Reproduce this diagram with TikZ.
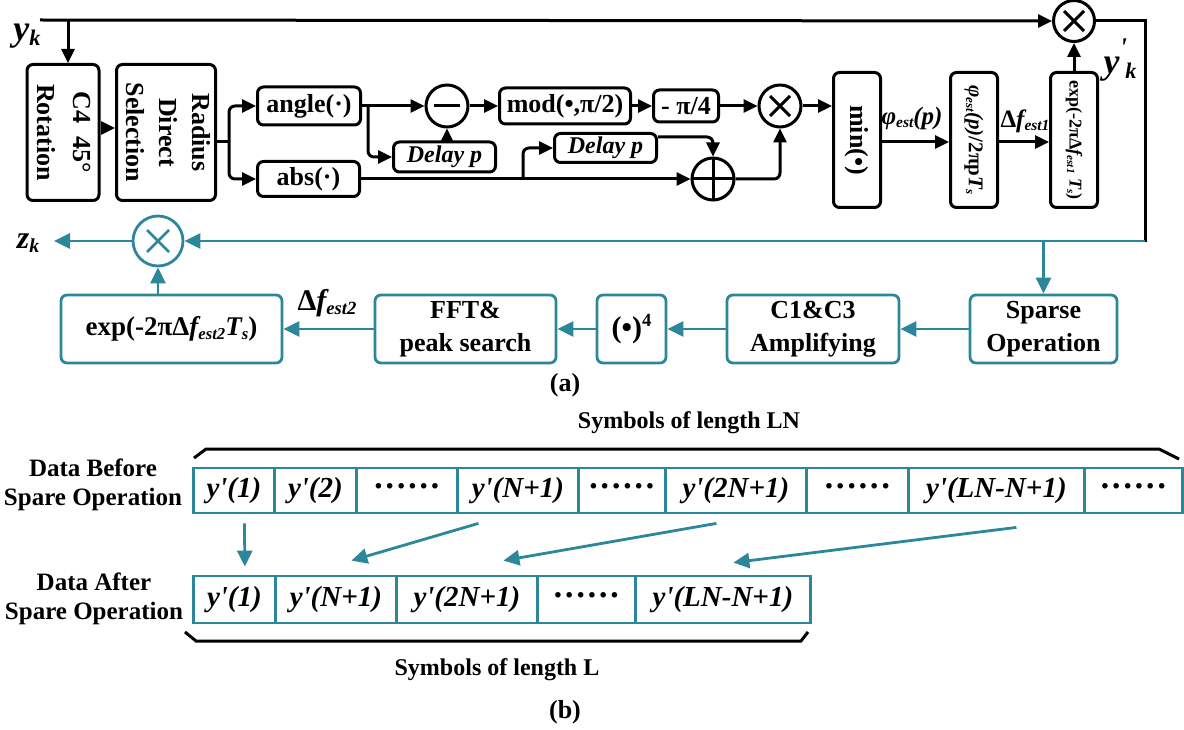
\documentclass[tikz,border=0pt]{standalone}
\usepackage{fontspec}
\setmainfont{Liberation Serif}
\usepackage{graphicx}
\usetikzlibrary{arrows.meta,calc}
\definecolor{tl}{RGB}{45,135,155}
\newcommand\dn[1]{\raisebox{-0.3ex}{\scalebox{0.62}{#1}}}
\newcommand\upx[1]{\raisebox{0.85ex}{\scalebox{0.62}{#1}}}
\newcommand\fs[2]{\fontsize{#1}{#2}\selectfont}
\newcommand\pr{\textquotesingle}
\newcommand\dts{{\upshape\fs{34}{29}······}}
\begin{document}
\begin{tikzpicture}[x=1pt,y=-1pt,
  bx/.style={draw, line width=3pt, rounded corners=6pt, inner sep=0pt, align=center, font=\bfseries\fs{26}{33}},
  tbx/.style={bx, draw=tl, line width=2.8pt},
  ar/.style={line width=3pt, -{Triangle[length=14pt,width=13pt]}},
  tar/.style={line width=2.8pt, color=tl, -{Triangle[length=16pt,width=15pt]}},
  circ/.style={circle, draw, line width=3pt, minimum size=42pt, inner sep=0pt},
  mulc/.style={circ, path picture={\draw[line width=3pt]
     ([shift={(-10pt,-10pt)}]path picture bounding box.center) -- ([shift={(10pt,10pt)}]path picture bounding box.center)
     ([shift={(-10pt,10pt)}]path picture bounding box.center) -- ([shift={(10pt,-10pt)}]path picture bounding box.center);}},
  tmulc/.style={circ, draw=tl, line width=2.8pt, minimum size=50pt, path picture={\draw[line width=2.8pt, tl]
     ([shift={(-11pt,-11pt)}]path picture bounding box.center) -- ([shift={(11pt,11pt)}]path picture bounding box.center)
     ([shift={(-11pt,11pt)}]path picture bounding box.center) -- ([shift={(11pt,-11pt)}]path picture bounding box.center);}},
  plusc/.style={circ, path picture={\draw[line width=3pt]
     ([shift={(-25pt,0pt)}]path picture bounding box.center) -- ([shift={(25pt,0pt)}]path picture bounding box.center)
     ([shift={(0pt,-25pt)}]path picture bounding box.center) -- ([shift={(0pt,25pt)}]path picture bounding box.center);}},
  minusc/.style={circ, path picture={\draw[line width=3pt]
     ([shift={(-13pt,0pt)}]path picture bounding box.center) -- ([shift={(13pt,0pt)}]path picture bounding box.center);}},
  lbl/.style={inner sep=0pt, align=center, font=\bfseries\fs{26}{33}},
  cell/.style={draw=tl, line width=2.8pt, inner sep=0pt, anchor=west, font=\bfseries\itshape\fs{29}{29}}
]
\useasboundingbox (0,0) rectangle (1184,730);

% ---------------- part (a), upper loop (black) ----------------
\coordinate (ys) at (40,20);
\node[mulc, minimum size=41pt] (m2) at (1074,21) {};
\draw[ar] (ys) -- (m2.west);
\node[lbl, font=\bfseries\itshape\fs{36}{36}] (yk) at (27,36) {y\dn{k}};

\node[bx, minimum width=63pt, minimum height=136pt] (c4) at (63,132.5)
  {\rotatebox{-90}{\fs{26}{36}\begin{tabular}{@{}c@{}}C4\ \ 45°\\Rotation\end{tabular}}};
\node[bx, minimum width=93pt, minimum height=136pt] (rds) at (166,132.5)
  {\rotatebox{-90}{\fs{26}{33}\begin{tabular}{@{}c@{}}Radius\\Direct\\Selection\end{tabular}}};
\coordinate (c4in) at ($(c4.north)+(5,0)$);
\draw[ar] (c4in |- ys) -- (c4in);
\draw[ar] (c4.east |- 0,128) -- (rds.west |- 0,128);

\node[bx, minimum width=103pt, minimum height=38pt] (ang) at (309,106) {angle(·)};
\node[bx, minimum width=102pt, minimum height=35pt] (abs) at (308.5,179) {abs(·)};
\coordinate (sp) at (229,142);
\draw[line width=3pt] (rds.east |- sp) -- (sp);
\draw[ar, rounded corners=6pt] (sp) |- (ang.west);
\draw[ar, rounded corners=6pt] (sp) |- (abs.west);

\node[minusc] (mi) at (447,106) {};
\node[bx, minimum width=102pt, minimum height=30pt, font=\bfseries\itshape\fs{24}{24}] (d1) at (444.5,157) {Delay p};
\node[bx, minimum width=131pt, minimum height=36pt] (mod) at (565,106) {mod(•,π/2)};
\node[bx, minimum width=65pt, minimum height=32pt] (pi4) at (686,106) {- π/4};
\node[mulc] (m1) at (780,106) {};
\node[bx, minimum width=102pt, minimum height=29pt, font=\bfseries\itshape\fs{24}{24}] (d2) at (605.5,148) {Delay p};
\node[plusc] (pl) at (713,179) {};

\draw[ar] (ang.east) -- (mi.west);
\coordinate (b1) at (368,106);
\draw[ar, rounded corners=6pt] (b1) |- (d1.west);
\draw[ar] (mi.south |- d1.north) -- (mi.south);
\draw[ar] (mi.east) -- (mod.west);
\draw[ar] (mod.east) -- (pi4.west);
\draw[ar] (pi4.east) -- (m1.west);
\draw[ar] (abs.east) -- (pl.west);
\coordinate (b2) at (523,179);
\draw[ar, rounded corners=6pt] (b2) |- (d2.west);
\draw[ar, rounded corners=6pt] (d2.east |- 0,137) -| (pl.north);
\draw[ar, rounded corners=6pt] (pl.east) -| (m1.south);

\node[bx, minimum width=47pt, minimum height=135pt] (mn) at (857,140) {\rotatebox{-90}{min(•)}};
\node[bx, minimum width=47pt, minimum height=135pt, font=\bfseries\fs{21}{21}] (ph) at (974,140)
  {\rotatebox{-90}{\textit{φ\dn{est}(p)}/2πp\textit{T\dn{s}}}};
\node[bx, minimum width=47pt, minimum height=135pt, font=\bfseries\fs{18}{18}] (ex1) at (1074,140)
  {\rotatebox{-90}{exp(-2πΔ\textit{f\dn{est1} T\dn{s}})}};
\draw[ar] (m1.east) -- (m1.east -| mn.west);
\draw[ar] (mn.east |- 0,142) -- (ph.west |- 0,142);
\draw[ar] (ph.east |- 0,142) -- (ex1.west |- 0,142);
\draw[ar] (ex1.north) -- (m2.south);
\node[lbl, font=\bfseries\itshape\fs{25}{25}] (lphi) at (912,118) {φ\dn{est}(p)};
\node[lbl, font=\bfseries\fs{25}{25}] (ldf1) at (1025,121) {Δ\textit{f\dn{est1}}};
\node[lbl, font=\bfseries\itshape\fs{36}{36}] (ykp) at (1120,60) {y\raisebox{1.0ex}{\scalebox{0.75}{\pr}}\hspace{-0.05em}\dn{k}};

\coordinate (c1) at (1145,241);
\draw[line width=3pt, line cap=rect] (m2.east) -| (c1);

% ---------------- part (a), lower chain (teal) ----------------
\node[tmulc] (m3) at (158,241) {};
\draw[tar] (c1) -- (m3.east);
\coordinate (zk) at (54,241);
\draw[tar] (m3.west) -- (zk);
\node[lbl, font=\bfseries\itshape\fs{32}{32}] (zkl) at (28,243) {z\dn{k}};

\node[tbx, minimum width=221pt, minimum height=68pt, font=\bfseries\fs{27}{33}] (ex2) at (171.5,329) {exp(-2πΔ\textit{f\dn{est2}T\dn{s}})};
\node[tbx, minimum width=181pt, minimum height=68pt] (fft) at (465.5,329) {FFT\&\\peak search};
\node[tbx, minimum width=69pt, minimum height=68pt, font=\bfseries\fs{30}{33}] (pw4) at (631.5,329) {(•)\upx{4}};
\node[tbx, minimum width=172pt, minimum height=68pt] (c13) at (813,329) {C1\&C3\\Amplifying};
\node[tbx, minimum width=147pt, minimum height=68pt] (spo) at (1043.5,329) {Sparse\\Operation};
\draw[tar] (spo.north |- c1) -- (spo.north);
\draw[tar] (spo.west) -- (c13.east);
\draw[tar] (c13.west) -- (pw4.east);
\draw[tar] (pw4.west) -- (fft.east);
\draw[tar] (fft.west) -- (ex2.east);
\draw[tar] (m3.south |- ex2.north) -- (m3.south);
\node[lbl, font=\bfseries\fs{30}{30}] (ldf2) at (327,303) {Δ\textit{f\dn{est2}}};
\node[lbl] (la) at (565,385) {(a)};

% ---------------- part (b) ----------------
\node[lbl, font=\bfseries\fs{24}{24}] (sln) at (689,423) {Symbols of length LN};
\node[lbl, font=\bfseries\fs{25}{29}] (dbf) at (93,485) {Data Before\\Spare Operation};
\node[lbl, font=\bfseries\fs{25}{29}] (daf) at (94,599) {Data After\\Spare Operation};

\node[cell, minimum width=81pt,  minimum height=45pt] (t1) at (192,490.5) {y\pr(1)};
\node[cell, minimum width=82pt,  minimum height=45pt] (t2) at (273,490.5) {y\pr(2)};
\node[cell, minimum width=101pt, minimum height=45pt] (t3) at (355,490.5) {\dts};
\node[cell, minimum width=121pt, minimum height=45pt] (t4) at (456,490.5) {y\pr(N+1)};
\node[cell, minimum width=87pt,  minimum height=45pt] (t5) at (577,490.5) {\dts};
\node[cell, minimum width=141pt, minimum height=45pt] (t6) at (664,490.5) {y\pr(2N+1)};
\node[cell, minimum width=102pt, minimum height=45pt] (t7) at (805,490.5) {\dts};
\node[cell, minimum width=176pt, minimum height=45pt] (t8) at (907,490.5) {y\pr(LN-N+1)};
\node[cell, minimum width=98pt,  minimum height=45pt] (t9) at (1083,490.5) {\dts};

\node[cell, minimum width=82pt,  minimum height=47pt] (u1) at (192,599.5) {y\pr(1)};
\node[cell, minimum width=121pt, minimum height=47pt] (u2) at (274,599.5) {y\pr(N+1)};
\node[cell, minimum width=141pt, minimum height=47pt] (u3) at (395,599.5) {y\pr(2N+1)};
\node[cell, minimum width=98pt,  minimum height=47pt] (u4) at (536,599.5) {\dts};
\node[cell, minimum width=175pt, minimum height=47pt] (u5) at (634,599.5) {y\pr(LN-N+1)};

\draw[tar] ($(t1.south)+(10.5,9)$) -- ($(u1.north)+(10.5,-8)$);
\draw[tar] ($(t4.south)+(-39.5,9)$) -- ($(u2.north)+(15.5,-14)$);
\draw[tar] ($(t6.south)+(-19.5,9)$) -- ($(u3.north)+(36.5,-14)$);
\draw[tar] ($(t8.south)+(20,13)$) -- ($(u5.north)+(10.5,-12)$);

\draw[line width=3pt] (194,458) -- (206,449) -- (1159,449) -- (1179,459);
\draw[line width=3pt] (185,632) -- (196,641) -- (801,641) -- (808,632);

\node[lbl, font=\bfseries\fs{24}{24}] (sl) at (497,670) {Symbols of length L};
\node[lbl] (lb) at (565,712) {(b)};
\end{tikzpicture}
\end{document}
